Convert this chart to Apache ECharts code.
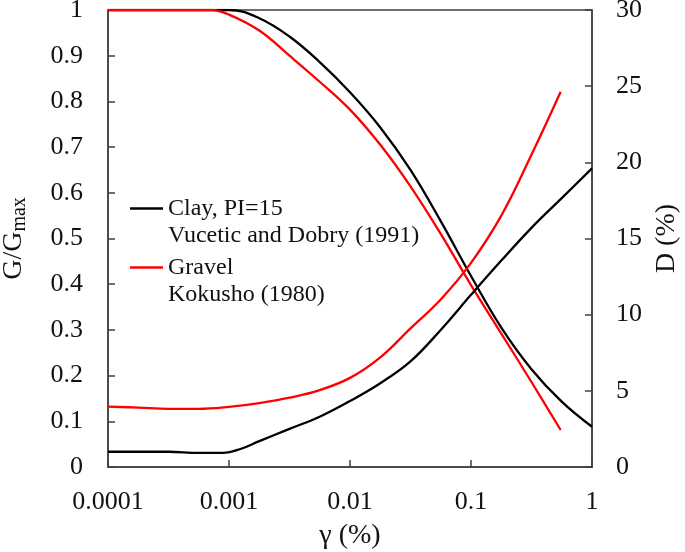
<!DOCTYPE html>
<html><head><meta charset="utf-8">
<script src="https://cdn.jsdelivr.net/npm/echarts@6/dist/echarts.min.js"></script>
<style>html,body{margin:0;padding:0;background:#fff}#c{width:685px;height:552px}</style>
</head><body><div id="c"></div>
<script>
// ---- data ----
const strainTickLabels = ['0.0001', '0.001', '0.01', '0.1', '1'];

const clayGStrain = [0.0001, 0.000316, 0.001, 0.00178, 0.00316, 0.00562, 0.01, 0.0178, 0.0316, 0.0562, 0.1, 0.178, 0.316, 0.562, 1];
const clayG       = [1, 1, 1, 0.982, 0.942, 0.886, 0.82, 0.743, 0.65, 0.538, 0.418, 0.305, 0.214, 0.143, 0.088];

const gravelGStrain = [0.0001, 0.000316, 0.00071, 0.001, 0.00178, 0.00316, 0.00562, 0.01, 0.0178, 0.0316, 0.0562, 0.1, 0.178, 0.316, 0.551];
const gravelG       = [1, 1, 1, 0.99, 0.955, 0.9, 0.843, 0.782, 0.705, 0.614, 0.51, 0.398, 0.292, 0.186, 0.081];

const clayDStrain = [0.0001, 0.000316, 0.00056, 0.00089, 0.00126, 0.00178, 0.00316, 0.00562, 0.01, 0.0178, 0.0316, 0.0562, 0.1, 0.178, 0.316, 0.562, 1];
const clayD       = [1.0, 1.0, 0.93, 0.93, 1.2, 1.7, 2.5, 3.3, 4.33, 5.5, 6.93, 9.0, 11.3, 13.55, 15.7, 17.65, 19.6];

const gravelDStrain = [0.0001, 0.000178, 0.000316, 0.00056, 0.001, 0.00178, 0.00316, 0.00562, 0.01, 0.0178, 0.0316, 0.0562, 0.1, 0.178, 0.316, 0.551];
const gravelD       = [3.96, 3.9, 3.82, 3.82, 3.95, 4.2, 4.55, 5.05, 5.85, 7.2, 9.1, 11.0, 13.4, 16.5, 20.5, 24.64];

const legendNames = {
  clay: ['Clay, PI=15', 'Vucetic and Dobry (1991)'],
  gravel: ['Gravel', 'Kokusho (1980)']
};

// ---- chart ----
const pair = (xs, ys) => xs.map((x, i) => [x, ys[i]]);
const FONT = '"Liberation Serif", "Times New Roman", serif';
const AXIS_COLOR = '#404040';
const TEXT_COLOR = '#111';

const chart = echarts.init(document.getElementById('c'), null, {renderer: 'canvas'});

const lineSeries = (name, data, color, yAxisIndex) => ({
  name, type: 'line', data, yAxisIndex,
  showSymbol: false, symbol: 'none', smooth: 0.4,
  lineStyle: {color, width: 2.3}, itemStyle: {color},
  animation: false, z: 3
});

chart.setOption({
  backgroundColor: '#fff',
  animation: false,
  grid: {left: 108, right: 93, top: 10, bottom: 85, show: true, borderColor: AXIS_COLOR, borderWidth: 1.5,
         containLabel: false, outerBoundsMode: 'none'},
  legend: {
    left: 130, top: 168, orient: 'vertical', padding: 0, itemGap: -22,
    icon: 'rect', itemWidth: 33, itemHeight: 2.3,
    data: ['clay', 'gravel'],
    formatter: n => '\n' + legendNames[n].join('\n'),
    textStyle: {fontFamily: FONT, fontSize: 24, color: TEXT_COLOR, lineHeight: 27}
  },
  xAxis: {
    type: 'log', logBase: 10, min: 0.0001, max: 1,
    name: 'γ (%)', nameLocation: 'middle', nameGap: 55,
    nameTextStyle: {fontFamily: FONT, fontSize: 28, color: TEXT_COLOR},
    axisLine: {lineStyle: {color: AXIS_COLOR, width: 1.5}},
    axisTick: {inside: true, length: 7, lineStyle: {color: AXIS_COLOR, width: 1.5}},
    minorTick: {show: false},
    splitLine: {show: false},
    axisLabel: {
      margin: 22, fontFamily: FONT, fontSize: 26, color: TEXT_COLOR,
      formatter: v => strainTickLabels[Math.round(Math.log10(v)) + 4]
    }
  },
  yAxis: [{
    type: 'value', min: 0, max: 1, interval: 0.1, position: 'left',
    name: '{a|G/G}{b|max}', nameLocation: 'middle', nameGap: 78,
    nameTextStyle: {
      rich: {
        a: {fontFamily: FONT, fontSize: 28, color: TEXT_COLOR},
        b: {fontFamily: FONT, fontSize: 20, color: TEXT_COLOR, padding: [12, 0, 0, 0]}
      }
    },
    axisLine: {show: true, lineStyle: {color: AXIS_COLOR, width: 1.5}},
    axisTick: {show: true, inside: true, length: 7, lineStyle: {color: AXIS_COLOR, width: 1.5}},
    splitLine: {show: false},
    axisLabel: {margin: 25, fontFamily: FONT, fontSize: 26, color: TEXT_COLOR}
  }, {
    type: 'value', min: 0, max: 30, interval: 5, position: 'right',
    name: 'D (%)', nameLocation: 'middle', nameGap: 58,
    nameTextStyle: {fontFamily: FONT, fontSize: 28, color: TEXT_COLOR},
    axisLine: {show: true, lineStyle: {color: AXIS_COLOR, width: 1.5}},
    axisTick: {show: true, inside: true, length: 7, lineStyle: {color: AXIS_COLOR, width: 1.5}},
    splitLine: {show: false},
    axisLabel: {margin: 24, fontFamily: FONT, fontSize: 26, color: TEXT_COLOR}
  }],
  series: [
    lineSeries('clay', pair(clayGStrain, clayG), '#000000', 0),
    lineSeries('gravel', pair(gravelGStrain, gravelG), '#ff0000', 0),
    lineSeries('clay', pair(clayDStrain, clayD), '#000000', 1),
    lineSeries('gravel', pair(gravelDStrain, gravelD), '#ff0000', 1)
  ]
});
</script>
</body></html>
